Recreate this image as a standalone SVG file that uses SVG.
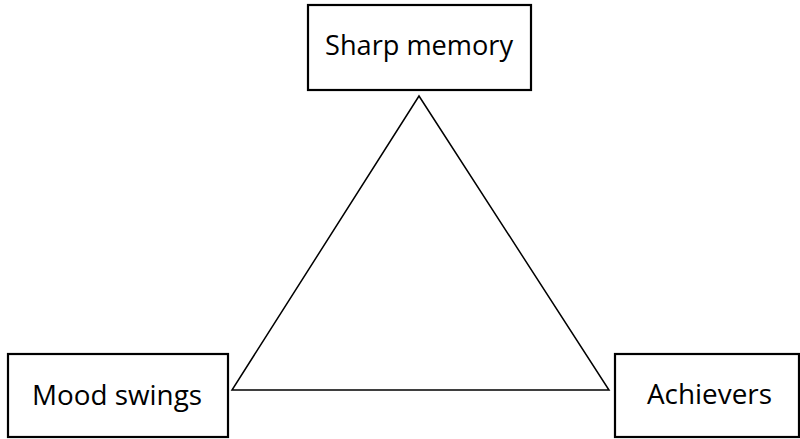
<svg xmlns="http://www.w3.org/2000/svg" width="800" height="439" viewBox="0 0 800 439">
<style>
.box{fill:#fff;stroke:#000;stroke-width:2.2}
.lbl{font-family:"Open Sans","Liberation Sans",sans-serif;font-size:27px;fill:#000}
.edge{fill:none;stroke:#000;stroke-width:1.5}
</style>
<rect width="800" height="439" fill="#fff"/>
<g id="connectors">
<polygon class="edge" points="419,96 232,390 609,390"/>
</g>
<g id="sharp-memory">
<rect class="box" x="308" y="5" width="223" height="85"/>
<text class="lbl" x="419" y="55" text-anchor="middle" textLength="188" lengthAdjust="spacingAndGlyphs">Sharp memory</text>
</g>
<g id="mood-swings">
<rect class="box" x="8" y="354" width="220" height="83"/>
<text class="lbl" x="117" y="405" text-anchor="middle" textLength="170" lengthAdjust="spacingAndGlyphs">Mood swings</text>
</g>
<g id="achievers">
<rect class="box" x="615" y="354" width="184" height="83"/>
<text class="lbl" x="709.5" y="404" text-anchor="middle" textLength="125" lengthAdjust="spacingAndGlyphs">Achievers</text>
</g>
</svg>
